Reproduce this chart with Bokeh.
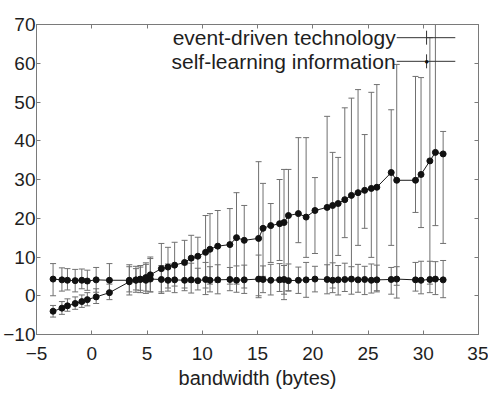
from bokeh.plotting import figure
from bokeh.models import (ColumnDataSource, Whisker, TeeHead, LinearAxis, FixedTicker,
                          Label, Arrow, Range1d)
from bokeh.embed import file_html
from bokeh.resources import INLINE

# ---------------- data ----------------
bandwidth = [-3.5, -2.7, -2.2, -1.5, -0.9, -0.4, 0.4, 1.6, 3.4, 4.0,
             4.4, 4.9, 5.3, 6.3, 6.9, 7.5, 8.4, 9.0, 9.6, 10.3,
             10.7, 11.4, 12.5, 13.1, 13.8, 15.1, 15.5, 16.2, 17.0, 17.4,
             17.8, 18.7, 19.4, 20.2, 21.3, 21.8, 22.3, 22.9, 23.5, 24.1,
             24.7, 25.3, 25.8, 27.1, 27.6, 29.3, 29.8, 30.6, 31.1, 31.8]

event_driven = [4.3, 4.1, 4.0, 3.9, 4.0, 3.8, 4.1, 4.0, 4.0, 4.1,
                4.2, 4.0, 4.3, 4.2, 4.0, 4.1, 4.0, 4.1, 3.9, 4.2,
                4.0, 4.1, 4.2, 4.0, 4.1, 4.3, 4.2, 4.0, 4.1, 4.2,
                3.9, 4.0, 4.1, 4.3, 4.2, 4.0, 4.1, 4.2, 4.3, 4.1,
                4.2, 4.0, 4.1, 4.2, 4.3, 4.1, 4.0, 4.2, 4.3, 4.1]
event_driven_upper = [8.3, 7.2, 7.0, 6.8, 6.9, 6.6, 7.3, 8.3, 8.0, 7.6,
                      7.4, 8.1, 9.6, 7.8, 8.2, 7.9, 8.0, 8.4, 7.1, 8.6,
                      7.5, 8.0, 7.3, 7.7, 7.9, 10.5, 7.7, 8.1, 8.3, 7.8,
                      8.2, 7.4, 8.6, 7.6, 8.0, 8.5, 7.8, 8.4, 7.5, 8.1,
                      7.6, 8.2, 7.9, 7.3, 7.5, 8.6, 8.9, 8.9, 8.8, 9.1]
event_driven_lower = [0.0, 1.2, 1.5, 1.0, 1.8, 1.4, 0.9, 1.1, 0.2, 0.9,
                      1.4, 0.6, 1.0, 0.6, 1.2, 0.8, 1.3, 0.7, 1.5, 0.3,
                      1.0, 0.5, 1.3, 0.9, 0.6, -0.5, 0.8, 0.2, 1.1, 0.4,
                      1.2, 0.6, -0.4, 1.0, 0.5, 0.8, 0.2, 1.1, 0.4, 0.9,
                      0.3, 0.7, 1.0, 0.4, -0.6, 1.2, 0.5, 0.8, 0.3, -0.5]

self_learning = [-4.0, -3.2, -2.6, -2.0, -1.5, -1.0, -0.3, 0.8, 3.6, 4.0,
                 4.3, 4.7, 5.4, 7.0, 7.4, 7.9, 8.6, 9.7, 10.2, 11.2,
                 12.0, 12.8, 13.2, 15.0, 14.3, 14.8, 17.4, 18.1, 18.6, 18.9,
                 20.7, 21.2, 20.3, 22.0, 22.8, 23.3, 23.8, 24.8, 25.9, 26.6,
                 27.2, 27.7, 28.0, 31.8, 29.8, 29.8, 31.3, 34.8, 37.0, 36.6]
self_learning_upper = [-2.5, -1.5, -0.8, -0.3, 0.2, 0.8, 1.8, 3.0, 7.5, 7.0,
                       7.8, 8.5, 10.0, 13.5, 12.5, 13.8, 14.3, 15.6, 15.1, 20.7,
                       21.2, 22.0, 22.5, 26.6, 23.3, 34.6, 29.0, 23.8, 30.0, 32.6,
                       32.6, 40.8, 40.8, 30.5, 46.3, 37.0, 35.7, 48.5, 51.0, 53.2,
                       41.6, 52.5, 54.5, 48.0, 59.7, 56.6, 56.3, 66.6, 71.0, 42.4]
self_learning_lower = [-5.5, -4.8, -4.0, -3.5, -3.0, -2.6, -2.0, -1.0, 1.0, 1.5,
                       0.8, 1.2, 1.0, 1.0, 2.0, 2.5, 2.0, 3.5, 4.0, 2.0,
                       3.0, 3.5, 3.0, 3.0, 2.0, 0.0, 5.0, 8.6, 9.1, -1.0,
                       1.3, 13.7, 9.9, 10.9, 4.0, 2.0, 10.4, 15.0, 4.0, 13.0,
                       17.4, 9.9, 1.3, 13.0, 2.7, 21.5, 17.6, 3.0, 18.1, 13.5]

x_ticks = [-5, 0, 5, 10, 15, 20, 25, 30, 35]
y_ticks = [-10, 0, 10, 20, 30, 40, 50, 60, 70]
series_names = ["event-driven technology", "self-learning information"]
x_label = "bandwidth (bytes)"

# ---------------- figure ----------------
FONT = "Liberation Sans"
AXIS_GRAY = "#7a7a7a"
TEXT = "#1e1e1e"
BAR = "#707070"

p = figure(width=488, height=392, output_backend="svg", toolbar_location=None,
           x_range=Range1d(-5, 35), y_range=Range1d(-10, 70),
           min_border_left=28, min_border_right=10, min_border_top=24, min_border_bottom=58)
p.xgrid.visible = False
p.ygrid.visible = False
p.outline_line_color = AXIS_GRAY
p.background_fill_color = "white"
p.border_fill_color = "white"

def style_axis(ax, show_labels=True, size="19px", standoff=4):
    ax.axis_line_color = AXIS_GRAY
    ax.major_tick_line_color = AXIS_GRAY
    ax.major_tick_in = 4
    ax.major_tick_out = 0
    ax.minor_tick_line_color = None
    ax.major_label_text_font = FONT
    if show_labels:
        ax.major_label_text_color = TEXT
        ax.major_label_text_font_size = size
        ax.major_label_standoff = standoff
    else:
        ax.major_label_text_color = None
        ax.major_label_text_font_size = "1px"
        ax.major_label_standoff = 0

p.xaxis.ticker = FixedTicker(ticks=x_ticks)
p.yaxis.ticker = FixedTicker(ticks=y_ticks)
style_axis(p.xaxis[0], size="19px", standoff=12)
style_axis(p.yaxis[0], size="19px", standoff=1)
p.xaxis.axis_label = x_label
p.xaxis.axis_label_text_font = FONT
p.xaxis.axis_label_text_font_style = "normal"
p.xaxis.axis_label_text_font_size = "20px"
p.xaxis.axis_label_text_color = TEXT
p.xaxis.axis_label_standoff = 4

top_ax = LinearAxis(ticker=FixedTicker(ticks=x_ticks))
style_axis(top_ax, show_labels=False)
p.add_layout(top_ax, "above")
right_ax = LinearAxis(ticker=FixedTicker(ticks=y_ticks))
style_axis(right_ax, show_labels=False)
p.add_layout(right_ax, "right")

# ---------------- series ----------------
for yv, up, lo in [(event_driven, event_driven_upper, event_driven_lower),
                   (self_learning, self_learning_upper, self_learning_lower)]:
    src = ColumnDataSource(dict(x=bandwidth, y=yv, upper=up, lower=lo))
    w = Whisker(source=src, base="x", upper="upper", lower="lower", dimension="height",
                line_color=BAR, line_width=1,
                upper_head=TeeHead(size=6, line_color=BAR, line_width=1),
                lower_head=TeeHead(size=6, line_color=BAR, line_width=1))
    p.add_layout(w)
    p.line("x", "y", source=src, line_color="#1a1a1a", line_width=1)
    p.scatter("x", "y", source=src, size=6, marker="circle",
              fill_color="#111111", line_color="#111111")

# ---------------- legend (text right, sample on the right) ----------------
leg_rows = [66.6, 60.5]
for i, (name, ly) in enumerate(zip(series_names, leg_rows)):
    p.add_layout(Label(x=27.5, y=ly, text=name, text_align="right", text_baseline="middle",
                       text_font=FONT, text_font_size="21px", text_color=TEXT))
    p.add_layout(Arrow(x_start=27.6, y_start=ly, x_end=32.9, y_end=ly, end=None,
                       line_color="#333333", line_width=1))
    p.add_layout(Arrow(x_start=30.3, y_start=ly - 1.8, x_end=30.3, y_end=ly + 1.8, end=None,
                       line_color="#333333", line_width=1))
    if i == 1:
        p.add_layout(Label(x=30.3, y=ly, text="●", text_align="center", text_baseline="middle",
                           text_font=FONT, text_font_size="8px", text_color="#111111"))

open("out.html", "w").write(file_html(p, INLINE))
